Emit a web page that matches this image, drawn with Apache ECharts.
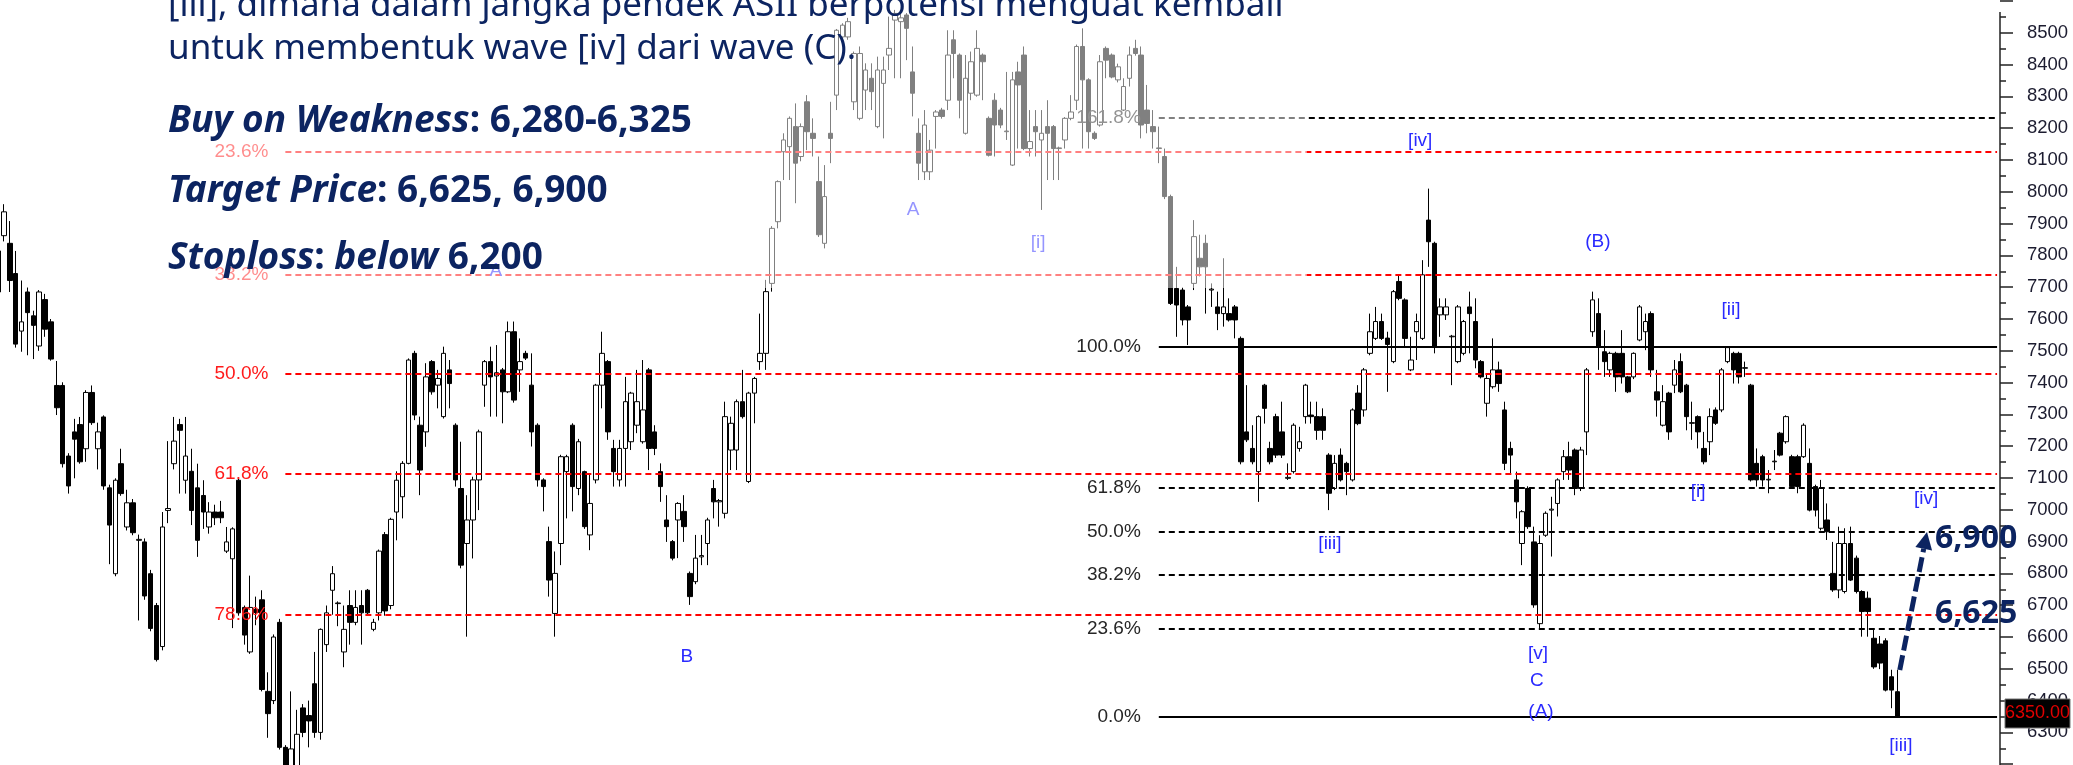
<!DOCTYPE html>
<html>
<head>
<meta charset="utf-8">
<script src="https://cdn.jsdelivr.net/npm/echarts@6/dist/echarts.min.js"></script>
<style>
html,body{margin:0;padding:0;background:#fff;}
#c{width:2073px;height:765px;}
</style>
</head>
<body>
<div id="c"></div>
<script>
// ---------------- DATA ----------------
const openP = [
7814,7862,7838,7743,7562,7685,7610,7515,7661,7591,
7391,7391,7169,7245,7268,7192,7369,7192,7292,7069,
6799,7145,6946,7022,6904,6899,6799,6699,6570,6998,
7145,7268,7093,7121,7069,7045,6946,6993,6993,6870,
6846,7093,6693,6553,6687,6717,6429,6400,6646,6253,
6181,6191,6377,6353,6453,6300,6576,6747,6705,6553,
6699,6646,6699,6747,6624,6676,6922,6699,6993,7041,
7146,7492,7266,7245,7466,7392,7293,7440,7266,7067,
6894,6968,7094,7392,7466,7421,7440,7371,7560,7440,
7492,7392,7266,7094,6900,6674,6894,7120,7266,7067,
7120,6921,7094,7392,7466,7193,7094,7193,7214,7266,
7214,7440,7245,7120,6968,6900,6968,6995,6800,6774,
6852,6894,7067,7025,6989,7188,7188,7340,7089,7367,
7466,7492,7712,7906,8126,8142,8205,8111,8283,8184,
8032,7838,8184,8304,8487,8487,8283,8231,8320,8357,
8205,8341,8430,8540,8535,8556,8377,8184,8063,8063,
8237,8257,8288,8478,8430,8184,8310,8304,8430,8231,
8288,8257,8189,8084,8377,8430,8136,8205,8163,8205,
8205,8136,8163,8231,8288,8457,8352,8184,8210,8451,
8430,8352,8257,8357,8451,8430,8257,8205,8136,8111,
7985,7696,7691,7638,7712,7791,7838,7691,7638,7617,
7617,7638,7539,7245,7193,7120,7392,7193,7293,7245,
7099,7120,7193,7293,7298,7293,7293,7172,7067,7172,
7146,7094,7367,7314,7492,7539,7592,7540,7466,7718,
7660,7440,7560,7539,7911,7838,7613,7613,7544,7466,
7492,7638,7592,7466,7335,7387,7440,7314,7193,7094,
6894,7067,6899,6642,6920,6999,7020,7120,7167,7188,
7067,7245,7560,7617,7497,7440,7492,7492,7418,7418,
7534,7560,7617,7371,7266,7367,7392,7466,7392,7272,
7293,7193,7214,7314,7314,7466,7492,7492,7445,7392,
7146,7167,7094,7151,7241,7214,7167,7167,7167,7146,
7073,6942,6968,6800,6748,6743,6894,6848,6743,6722,
6596,6578,6588,6475,6428
];
const closeP = [
7685,7937,7721,7521,7591,7620,7580,7685,7568,7474,
7321,7145,7075,7222,7151,7369,7274,7245,7075,6952,
7093,7051,7022,6928,6907,6729,6627,6529,6946,7004,
7216,7250,7169,6998,6904,6993,6993,6975,6975,6899,
6940,6676,6606,6693,6677,6435,6359,6600,6253,6181,
6248,6294,6300,6336,6300,6624,6676,6799,6707,6624,
6646,6693,6676,6676,6646,6870,6682,6970,7093,7146,
7471,7298,7125,7418,7371,7413,7492,7397,7094,6826,
6968,7094,7245,7466,7418,7431,7371,7560,7345,7466,
7477,7245,7094,7073,6779,6800,7167,7167,7073,7214,
6947,7020,7392,7492,7245,7120,7193,7340,7367,7340,
7314,7193,7193,7073,6947,6848,7020,6947,6727,6848,
6856,6968,7025,7029,7293,7272,7340,7293,7367,7413,
7492,7686,7885,8032,8163,8231,8090,8205,8189,8168,
7865,7985,8168,8508,8524,8535,8435,8435,8383,8315,
8383,8383,8451,8561,8547,8514,8310,8090,8210,8131,
8251,8237,8430,8435,8288,8357,8409,8451,8409,8115,
8210,8210,8191,8352,8336,8136,8158,8189,8184,8184,
8136,8138,8231,8251,8457,8352,8189,8168,8409,8414,
8361,8393,8331,8430,8435,8210,8215,8189,8138,7985,
7649,7644,7597,7597,7859,7764,7764,7694,7617,7638,
7597,7597,7151,7220,7151,7293,7319,7151,7172,7172,
7102,7266,7214,7392,7293,7250,7250,7052,7146,7094,
7120,7314,7271,7440,7560,7592,7539,7520,7686,7665,
7539,7471,7592,7739,7843,7513,7638,7638,7546,7638,
7592,7617,7471,7418,7413,7440,7397,7146,7172,7025,
6994,6947,6701,6894,6989,7002,7094,7167,7125,7067,
7188,7440,7660,7513,7466,7492,7418,7418,7371,7492,
7638,7592,7440,7345,7340,7245,7440,7371,7293,7274,
7245,7151,7293,7272,7440,7510,7440,7418,7447,7094,
7094,7094,7096,7153,7172,7293,7073,7073,7266,6999,
6999,7067,6931,6748,6894,6894,6779,6743,6680,6680,
6506,6518,6433,6433,6350
];
const lowP = [
7669,7844,7685,7510,7497,7486,7474,7500,7544,7469,
7298,7133,7051,7099,7145,7151,7267,7127,7063,6829,
6791,7044,6935,6920,6652,6717,6618,6523,6558,6958,
7127,7051,7051,6952,6852,6940,6925,6952,6958,6864,
6628,6667,6576,6547,6637,6429,6283,6389,6246,6161,
6171,6181,6285,6253,6283,6277,6553,6670,6634,6505,
6576,6637,6576,6667,6618,6652,6667,6687,6904,6973,
7143,7282,7046,7198,7362,7319,7287,7319,7073,6816,
6601,6847,6999,7324,7293,7293,7272,7367,7337,7371,
7471,7199,7073,6995,6727,6601,6826,6973,6995,7046,
6940,6873,7083,7319,7220,7073,7073,7073,7188,7241,
7208,7125,7172,7025,6899,6841,6848,6899,6701,6766,
6826,6826,6973,6947,6973,7125,7125,7287,7084,7272,
7440,7440,7686,7885,8037,8037,7964,8096,8131,8111,
7858,7822,8090,8257,8483,8478,8257,8225,8257,8257,
8200,8168,8383,8357,8357,8414,8237,8037,8037,8037,
8136,8230,8257,8357,8231,8180,8288,8299,8288,8111,
8111,8200,8163,8081,8136,8131,8111,8111,7943,8037,
8037,8037,8136,8225,8257,8136,8136,8163,8205,8357,
8357,8344,8254,8331,8428,8168,8184,8136,8090,7977,
7644,7544,7580,7518,7691,7734,7617,7638,7565,7576,
7592,7539,7143,7213,7143,7025,7271,7143,7163,7163,
7094,7114,7183,7271,7271,7220,7220,6999,7062,7089,
7046,7089,7266,7293,7486,7534,7534,7371,7461,7659,
7513,7436,7471,7534,7764,7492,7544,7597,7392,7461,
7486,7492,7445,7413,7293,7381,7371,7125,7115,6973,
6826,6940,6692,6627,6915,6853,6979,7094,7094,7046,
7059,7172,7544,7440,7418,7418,7371,7397,7367,7411,
7530,7502,7418,7293,7262,7220,7367,7367,7250,7220,
7193,7143,7172,7267,7307,7461,7397,7397,7418,7089,
7073,7073,7052,7125,7168,7208,7069,7052,7163,6995,
6979,6935,6905,6742,6722,6737,6776,6737,6601,6601,
6500,6499,6429,6376,6350
];
const highP = [
7828,7961,7908,7814,7721,7699,7626,7691,7679,7600,
7468,7401,7178,7286,7292,7376,7391,7274,7297,7079,
7099,7192,7063,7034,6922,6910,6811,6707,6993,7216,
7292,7286,7292,7192,7145,7093,7024,7016,7028,6946,
6945,7099,6699,6793,6727,6747,6489,6608,6657,6260,
6429,6371,6389,6400,6553,6627,6699,6823,6712,6699,
6747,6747,6747,6751,6657,6875,6930,6975,7121,7153,
7476,7500,7293,7461,7471,7440,7513,7471,7272,7214,
7046,7104,7252,7471,7513,7518,7446,7592,7592,7539,
7500,7492,7272,7099,6947,6869,7173,7173,7272,7223,
7123,7115,7396,7560,7471,7220,7220,7418,7371,7440,
7471,7446,7266,7146,7046,6905,7024,7046,6806,6921,
6921,6975,7094,7034,7340,7293,7347,7440,7371,7418,
7617,7723,7892,8036,8184,8237,8278,8215,8304,8231,
8111,8084,8283,8512,8530,8547,8441,8457,8404,8404,
8425,8425,8551,8572,8567,8562,8457,8231,8257,8163,
8257,8264,8508,8508,8435,8430,8441,8508,8435,8237,
8310,8264,8377,8377,8409,8457,8257,8257,8257,8288,
8210,8142,8235,8304,8463,8514,8357,8190,8430,8457,
8435,8403,8357,8457,8478,8457,8336,8257,8205,8136,
7991,7764,7699,7644,7911,7865,7865,7712,7686,7791,
7665,7644,7545,7392,7266,7297,7396,7214,7302,7340,
7146,7272,7261,7396,7340,7340,7319,7178,7172,7193,
7151,7319,7392,7446,7617,7638,7617,7560,7691,7739,
7665,7544,7617,7785,8010,7843,7665,7665,7550,7644,
7597,7686,7665,7471,7429,7539,7466,7340,7214,7120,
6999,7074,6947,6920,6995,7041,7099,7188,7214,7193,
7198,7446,7686,7665,7565,7497,7497,7565,7421,7495,
7644,7617,7624,7440,7392,7371,7471,7492,7396,7340,
7297,7245,7319,7322,7446,7513,7497,7497,7466,7396,
7193,7173,7125,7188,7245,7297,7173,7173,7272,7193,
7079,7094,7020,6899,6947,6942,6947,6856,6747,6743,
6627,6603,6596,6497,6497
];

// Fibonacci retracements drawn on the chart
const blackFibLow = 6350, blackFibHigh = 7513;
const blackFibPct = [0, 23.6, 38.2, 50, 61.8, 100, 161.8];
const redFibTop = 8751, redFibBottom = 6102;
const redFibPct = [23.6, 38.2, 50, 61.8, 78.6];
const currentPrice = 6350;

// Elliott wave labels: text, category position, price position
const waveText  = ['A', 'B', 'A', '[i]', '[iv]', '(B)', '[ii]', '[iii]', '[v]', 'C', '(A)', '[i]', '[iv]', '[iii]'];
const waveCat   = [84.9, 117.5, 156.1, 177.4, 242.6, 272.9, 295.6, 227.2, 262.7, 262.5, 263.2, 290.0, 328.9, 324.6];
const wavePrice = [7751, 6537, 7943, 7839, 8160, 7842, 7628, 6892, 6547, 6462, 6364, 7056, 7034, 6257];

// Target labels and projection arrow
const targetText  = ['6,900', '6,625'];
const targetPrice = [6908, 6672];
const targetCat   = 330.4;
const arrowFrom = [324.4, 6496];
const arrowTo   = [329.05, 6930];

const paragraph = [
  '[iii], dimana dalam jangka pendek ASII berpotensi menguat kembali',
  'untuk membentuk wave [iv] dari wave (C).'
];

// ---------------- CHART ----------------
const N_CATS = 342;
const categories = Array.from({length: N_CATS}, (_, i) => String(i));
const candles = openP.map((o, i) => [o, closeP[i], lowP[i], highP[i]]);

const lvlBlack = p => blackFibLow + (blackFibHigh - blackFibLow) * p / 100;
const lvlRed = p => redFibTop - (redFibTop - redFibBottom) * p / 100;

const fibLabelFont = {fontSize: 19, fontFamily: 'Liberation Sans'};
const markData = [];
redFibPct.forEach(p => {
  const v = lvlRed(p);
  markData.push([
    {coord: [49, v], lineStyle: {color: '#ff0000', type: [6, 4], width: 2},
     label: Object.assign({show: true, position: 'start', distance: 17, color: '#ff1a1a', formatter: p.toFixed(1) + '%'}, fibLabelFont)},
    {coord: [341, v]}
  ]);
});
blackFibPct.forEach(p => {
  const v = lvlBlack(p);
  const solid = (p === 0 || p === 100);
  markData.push([
    {coord: [198, v], lineStyle: {color: '#000', type: solid ? 'solid' : [6, 4], width: 2},
     label: Object.assign({show: true, position: 'start', distance: 18, color: '#262626', formatter: p.toFixed(1) + '%'}, fibLabelFont)},
    {coord: [341, v]}
  ]);
});

const chart = echarts.init(document.getElementById('c'), null, {renderer: 'canvas'});
const option = {
  animation: false,
  backgroundColor: '#ffffff',
  grid: {left: -4.8, right: 73, top: 1.0, bottom: 0.8, containLabel: false, outerBoundsMode: 'none'},
  xAxis: {type: 'category', data: categories, show: false, boundaryGap: true},
  yAxis: {
    type: 'value', position: 'right', min: 6200, max: 8600, interval: 100,
    axisLine: {show: false},
    axisTick: {show: true, length: 13, lineStyle: {color: '#222', width: 1.5}},
    minorTick: {show: true, splitNumber: 2, length: 6, lineStyle: {color: '#222', width: 1.5}},
    splitLine: {show: false}, minorSplitLine: {show: false},
    axisLabel: {margin: 27, color: '#1c1c30', fontSize: 18.5, fontFamily: 'Liberation Sans',
                padding: [5, 0, 0, 0],
                formatter: v => String(v),
                showMinLabel: false, showMaxLabel: false}
  },
  series: [{
    type: 'candlestick',
    data: candles,
    barWidth: 5,
    itemStyle: {color: '#ffffff', color0: '#000000', borderColor: '#000000', borderColor0: '#000000', borderWidth: 1},
    emphasis: {disabled: true},
    markLine: {silent: true, symbol: ['none', 'none'], animation: false, data: markData}
  }]
};
chart.setOption(option);

const toY = v => chart.convertToPixel({yAxisIndex: 0}, v);
const toX = c => {
  const a = Math.floor(c), f = c - a;
  const x0 = chart.convertToPixel({xAxisIndex: 0}, a);
  const x1 = chart.convertToPixel({xAxisIndex: 0}, a + 1);
  return x0 + (x1 - x0) * f;
};

const navy = '#0c2461';
const g = [];
// y axis line
g.push({type: 'line', silent: true, z: 3, shape: {x1: 2000, y1: 12, x2: 2000, y2: 765}, style: {stroke: '#222', lineWidth: 1.5}});
// wave labels (below the translucent text panel)
waveText.forEach((t, i) => {
  g.push({type: 'text', silent: true, z: 5, x: toX(waveCat[i]), y: toY(wavePrice[i]),
    style: {text: t, fill: '#2a2aff', font: '19px "Liberation Sans"', align: 'center', verticalAlign: 'middle', textAlign: 'center', textVerticalAlign: 'middle'}});
});
// translucent white text panel
g.push({type: 'rect', silent: true, z: 10, shape: {x: 160, y: 0, width: 1147, height: 288}, style: {fill: 'rgba(255,255,255,0.5)'}});
// paragraph
const paraY = [6.4, 49.4];
paragraph.forEach((t, i) => {
  g.push({type: 'text', silent: true, z: 20, x: 168, y: paraY[i],
    style: {text: t, fill: navy, font: '35px "Noto Sans"', verticalAlign: 'middle', textVerticalAlign: 'middle'}});
});
const richStyle = {
  bi: {fontFamily: 'Noto Sans', fontSize: 37, fontWeight: 'bold', fontStyle: 'italic', fill: navy},
  b: {fontFamily: 'Noto Sans', fontSize: 37, fontWeight: 'bold', fill: navy}
};
const richLines = [
  ['{bi|Buy on Weakness}{b|: 6,280-6,325}', 121],
  ['{bi|Target Price}{b|: 6,625, 6,900}', 191],
  ['{bi|Stoploss}{b|: }{bi|below}{b| 6,200}', 258]
];
richLines.forEach(([t, y]) => {
  g.push({type: 'text', silent: true, z: 20, x: 168, y: y,
    style: {text: t, rich: richStyle, verticalAlign: 'middle', textVerticalAlign: 'middle'}});
});
// projection arrow
const S = [toX(arrowFrom[0]), toY(arrowFrom[1])];
const T = [toX(arrowTo[0]), toY(arrowTo[1])];
const dx = T[0] - S[0], dy = T[1] - S[1], len = Math.hypot(dx, dy);
const ux = dx / len, uy = dy / len, nx = -uy, ny = ux;
const headLen = 17, headHalf = 8.5;
const B = [T[0] - ux * headLen, T[1] - uy * headLen];
g.push({type: 'line', silent: true, z: 20, shape: {x1: S[0], y1: S[1], x2: B[0], y2: B[1]},
  style: {stroke: navy, lineWidth: 5, lineDash: [15, 5]}});
g.push({type: 'polygon', silent: true, z: 20,
  shape: {points: [T, [B[0] + nx * headHalf, B[1] + ny * headHalf], [B[0] - nx * headHalf, B[1] - ny * headHalf]]},
  style: {fill: navy}});
// target labels
targetText.forEach((t, i) => {
  g.push({type: 'text', silent: true, z: 20, x: toX(targetCat), y: toY(targetPrice[i]),
    style: {text: t, fill: navy, font: 'bold 32px "Noto Sans"', verticalAlign: 'middle', textVerticalAlign: 'middle'}});
});
// current price box
const yc = toY(currentPrice);
g.push({type: 'rect', silent: true, z: 25, shape: {x: 2005, y: yc - 17.5, width: 65, height: 29},
  style: {fill: '#000', stroke: '#777', lineWidth: 1}});
g.push({type: 'text', silent: true, z: 26, x: 2037.5, y: yc - 3,
  style: {text: currentPrice.toFixed(2), fill: '#e00000', font: '18px "Liberation Sans"', align: 'center', verticalAlign: 'middle', textAlign: 'center', textVerticalAlign: 'middle'}});

chart.setOption({graphic: {elements: g}});
</script>
</body>
</html>
